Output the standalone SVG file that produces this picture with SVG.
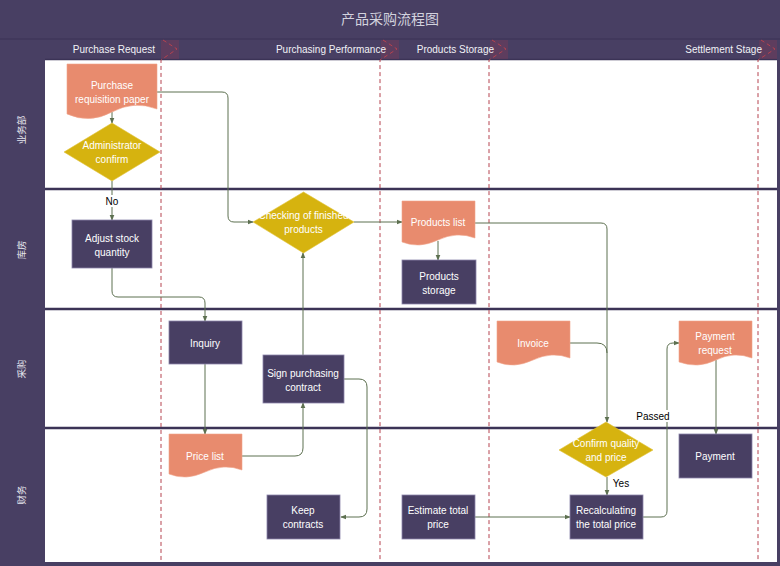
<svg xmlns="http://www.w3.org/2000/svg" width="780" height="566" viewBox="0 0 780 566">
<style>
.dark{fill:#483f63}
.lane{stroke:#3b3356;stroke-width:2.5}
.sep{stroke:#b5424f;stroke-width:1;stroke-dasharray:4 3;fill:none}
.hdr{font-family:"Liberation Sans",Arial,sans-serif;font-size:10px;fill:#f2f2f6;text-anchor:end}
.lbl{font-family:"Noto Sans CJK SC","Noto Sans",sans-serif;font-size:9.5px;fill:#e6e6ee;text-anchor:middle}
.proc{fill:#483f63;stroke:#8c86aa;stroke-width:0.8}
.doc{fill:#e88b6e;stroke:#f0a58c;stroke-width:0.6}
.dec{fill:#d6b30f;stroke:#e0c23a;stroke-width:0.6}
.t{font-family:"Liberation Sans",Arial,sans-serif;font-size:10px;fill:#ffffff;text-anchor:middle}
.k{font-family:"Liberation Sans",Arial,sans-serif;font-size:10px;fill:#000000;text-anchor:middle}
.c{fill:none;stroke:#5d7050;stroke-width:1}
.a{marker-end:url(#arr)}
</style>
<defs>
<marker id="arr" viewBox="0 0 8 8" refX="7" refY="4" markerWidth="6" markerHeight="6" orient="auto" markerUnits="userSpaceOnUse">
<path d="M0,0.8 L8,4 L0,7.2 Z" fill="#5d7050"/>
</marker>
</defs>
<!-- frame -->
<rect x="0" y="0" width="780" height="566" class="dark"/>
<rect x="45" y="59" width="732" height="503" fill="#ffffff"/>
<line x1="0" y1="39" x2="780" y2="39" stroke="#3b3356" stroke-width="1"/>
<line x1="45" y1="59.5" x2="777" y2="59.5" stroke="#3b3356" stroke-width="1.5"/>
<text x="390" y="24" font-family="'Noto Sans CJK SC',sans-serif" font-size="14" fill="#d2d2de" text-anchor="middle">产品采购流程图</text>
<!-- lanes -->
<g id="lanes">
<line x1="45" y1="189" x2="777" y2="189" class="lane"/>
<line x1="45" y1="309" x2="777" y2="309" class="lane"/>
<line x1="45" y1="428" x2="777" y2="428" class="lane"/>
<text class="lbl" transform="translate(25,130) rotate(-90)">业务部</text>
<text class="lbl" transform="translate(25,250) rotate(-90)">库房</text>
<text class="lbl" transform="translate(25,369) rotate(-90)">采购</text>
<text class="lbl" transform="translate(25,495) rotate(-90)">财务</text>
</g>
<!-- phases -->
<g id="phases">
<rect x="161" y="40" width="18" height="19" fill="#8a3a55" opacity="0.35"/>
<rect x="381" y="40" width="18" height="19" fill="#8a3a55" opacity="0.35"/>
<rect x="490" y="40" width="18" height="19" fill="#8a3a55" opacity="0.35"/>
<rect x="759" y="40" width="18" height="19" fill="#8a3a55" opacity="0.35"/>
<path class="sep" d="M163,40 L177,49 L161,60 V562"/>
<path class="sep" d="M383,40 L397,49 L380,60 V562"/>
<path class="sep" d="M492,40 L506,49 L489,60 V562"/>
<path class="sep" d="M761,40 L775,49 L758,60 V562"/>
<text class="hdr" x="155" y="53">Purchase Request</text>
<text class="hdr" x="386" y="53">Purchasing Performance</text>
<text class="hdr" x="494" y="53">Products Storage</text>
<text class="hdr" x="762" y="53">Settlement Stage</text>
</g>
<!-- connectors -->
<g id="connectors">
<path class="c a" d="M112,112 V123"/>
<path class="c a" d="M112,181 V220"/>
<path class="c a" d="M112,268 V291 Q112,297 118,297 H199 Q205,297 205,303 V321"/>
<path class="c a" d="M205,364 V434"/>
<path class="c a" d="M242,456 H295 Q303,456 303,448 V403"/>
<path class="c a" d="M303,355 V253"/>
<path class="c a" d="M344,379 H359 Q367,379 367,387 V509 Q367,517 359,517 H341"/>
<path class="c a" d="M157,92 H222 Q228,92 228,98 V216 Q228,222 234,222 H253"/>
<path class="c a" d="M354,222 H402"/>
<path class="c a" d="M438,241 V260"/>
<path class="c a" d="M475,223 H601 Q607,223 607,229 V422"/>
<path class="c" d="M570,343 H597 Q607,343 607,353"/>
<path class="c a" d="M607,477 V495"/>
<path class="c a" d="M475,517 H570"/>
<path class="c a" d="M643,517 H661 Q667,517 667,511 V349 Q667,343 673,343 H679"/>
<path class="c a" d="M716,360 V434"/>
<rect x="103" y="195" width="18" height="12" fill="#ffffff"/>
<text class="k" x="112" y="205">No</text>
<text class="k" x="621" y="487">Yes</text>
<rect x="637" y="410" width="32" height="12" fill="#ffffff"/>
<text class="k" x="653" y="420">Passed</text>
</g>
<!-- nodes -->
<g id="n_purchase_req">
<path class="doc" d="M67,64 H157 V109 Q134,100 112,112 T67,114 Z"/>
<text class="t" x="112" y="89">Purchase</text>
<text class="t" x="112" y="103">requisition paper</text>
</g>
<g id="n_admin">
<polygon class="dec" points="112,123 160,152 112,181 64,152"/>
<text class="t" x="112" y="149">Administrator</text>
<text class="t" x="112" y="163">confirm</text>
</g>
<g id="n_adjust">
<rect class="proc" x="72" y="220" width="80" height="48"/>
<text class="t" x="112" y="242">Adjust stock</text>
<text class="t" x="112" y="256">quantity</text>
</g>
<g id="n_inquiry">
<rect class="proc" x="169" y="321" width="73" height="43"/>
<text class="t" x="205" y="347">Inquiry</text>
</g>
<g id="n_price">
<path class="doc" d="M169,434 H242 V470 Q224,463 205,472 T169,474 Z"/>
<text class="t" x="205" y="460">Price list</text>
</g>
<g id="n_sign">
<rect class="proc" x="263" y="355" width="81" height="48"/>
<text class="t" x="303" y="377">Sign purchasing</text>
<text class="t" x="303" y="391">contract</text>
</g>
<g id="n_keep">
<rect class="proc" x="267" y="495" width="73" height="44"/>
<text class="t" x="303" y="514">Keep</text>
<text class="t" x="303" y="528">contracts</text>
</g>
<g id="n_checking">
<polygon class="dec" points="303.5,192 354,222 303.5,253 253,222"/>
<text class="t" x="303.5" y="219">Checking of finished</text>
<text class="t" x="303.5" y="233">products</text>
</g>
<g id="n_plist">
<path class="doc" d="M402,201 H475 V238 Q457,231 438,240 T402,242 Z"/>
<text class="t" x="438" y="226">Products list</text>
</g>
<g id="n_pstorage">
<rect class="proc" x="402" y="260" width="74" height="44"/>
<text class="t" x="439" y="280">Products</text>
<text class="t" x="439" y="294">storage</text>
</g>
<g id="n_invoice">
<path class="doc" d="M497,321 H570 V358 Q552,351 533,360 T497,362 Z"/>
<text class="t" x="533" y="347">Invoice</text>
</g>
<g id="n_confirm">
<polygon class="dec" points="606,422 653,450 606,477 559,450"/>
<text class="t" x="606" y="447">Confirm quality</text>
<text class="t" x="606" y="461">and price</text>
</g>
<g id="n_recalc">
<rect class="proc" x="570" y="495" width="73" height="44"/>
<text class="t" x="606" y="514">Recalculating</text>
<text class="t" x="606" y="528">the total price</text>
</g>
<g id="n_estimate">
<rect class="proc" x="402" y="495" width="73" height="44"/>
<text class="t" x="438" y="514">Estimate total</text>
<text class="t" x="438" y="528">price</text>
</g>
<g id="n_payreq">
<path class="doc" d="M679,321 H752 V358 Q734,351 716,360 T679,362 Z"/>
<text class="t" x="715" y="340">Payment</text>
<text class="t" x="715" y="354">request</text>
</g>
<g id="n_payment">
<rect class="proc" x="679" y="434" width="73" height="44"/>
<text class="t" x="715" y="460">Payment</text>
</g>
</svg>
